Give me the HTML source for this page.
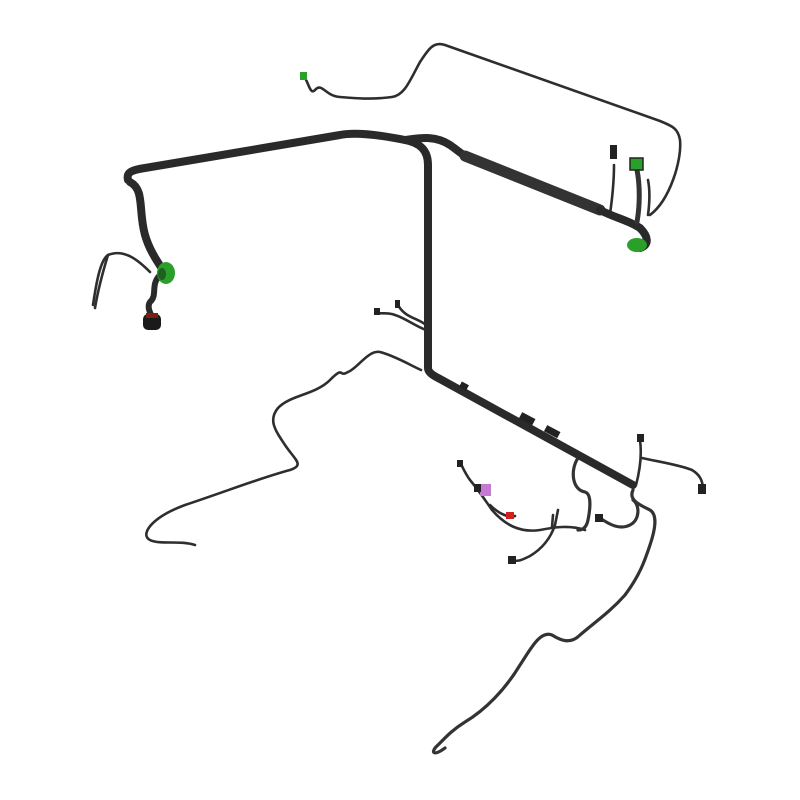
<!DOCTYPE html>
<html><head><style>html,body{margin:0;background:#fff}svg{display:block}</style></head>
<body>
<svg width="800" height="800" viewBox="0 0 800 800" xmlns="http://www.w3.org/2000/svg">
<g fill="none" stroke-linecap="round" stroke-linejoin="round">
<!-- thin wires -->
<g stroke="#2e2e2e" stroke-width="2.6">
<path d="M650 215 C670 200 682 160 680 140 C678 128 672 126 660 121 L445 45 C433 41 428 50 420 62 C410 80 405 95 392 97 C370 100 352 98 340 97 C325 96 322 82 315 90 C310 96 308 80 304 77"/>
<path d="M150 272 C140 262 125 248 108 255 C100 260 96 285 93 305"/>
<path d="M108 255 C104 268 98 290 95 308"/>
<path d="M421 370 C410 365 395 356 380 352 C368 350 358 368 348 372 C338 378 345 365 330 380 C315 395 290 395 278 408 C268 420 275 430 285 445 C295 460 305 465 290 470 C260 478 230 490 185 505 C150 518 140 535 150 540 C160 545 180 540 195 545"/>
<path d="M426 330 C415 326 405 318 395 315 C388 312 382 314 378 313"/>
<path d="M426 325 C418 318 405 318 398 305"/>
<path d="M585 530 C570 525 555 527 540 530 C520 533 505 525 492 510 C485 500 480 492 470 480 C465 473 463 468 461 464"/>
<path d="M490 505 C500 515 510 518 515 516"/>
<path d="M555 525 C550 540 540 550 530 556 C522 560 518 562 512 560"/>
<path d="M555 525 L558 510 M552 527 L553 515"/>
<path d="M636 485 C640 470 642 455 640 440 M642 458 C660 462 680 465 692 470 C700 475 702 480 703 487"/>
<path d="M610 214 C612 200 614 180 614 165 M648 215 C650 200 650 190 648 180"/>
</g>
<g stroke="#333" stroke-width="3.2">
<path d="M633 490 C628 500 640 505 650 510 C658 515 655 530 650 545 C645 560 640 575 625 595 C610 612 595 622 580 635 C570 645 560 640 552 635 C540 630 530 650 520 665 C505 690 485 710 465 722 C452 730 445 738 438 745 C430 752 433 757 445 748"/>
<path d="M600 518 C610 525 620 530 630 525 C640 520 640 505 633 500"/>
<path d="M578 458 C570 470 572 490 585 492 C592 494 590 510 588 520 C586 530 580 530 578 530"/>
</g>
<!-- thick trunk -->
<g stroke="#2a2a2a" stroke-width="8">
<path d="M128 180 C126 172 132 170 145 168 L340 135 C355 132 380 135 405 140 C420 143 428 150 428 165 L428 368 C428 372 432 375 440 379 L633 485"/>
<path d="M130 182 C145 190 138 210 145 235 C150 252 158 262 164 272"/>
<path d="M405 140 C420 138 435 135 450 145 C460 152 462 155 468 157"/>
</g>
<path d="M465 156 L600 210" stroke="#333" stroke-width="11"/>
<path d="M600 210 C615 218 628 220 640 228 C648 236 650 245 640 248" stroke="#2a2a2a" stroke-width="8"/>
<path d="M637 222 C640 205 640 185 637 170" stroke="#333" stroke-width="5"/>
<path d="M160 275 C150 285 158 295 150 302 C146 308 152 315 153 320" stroke="#2a2a2a" stroke-width="6"/>
</g>
<!-- connectors -->
<ellipse cx="166" cy="273" rx="9" ry="11" fill="#2aa02a"/>
<ellipse cx="162" cy="274" rx="4" ry="6" fill="#1f5f1f"/>
<rect x="143" y="314" width="18" height="16" rx="5" fill="#1a1a1a"/>
<rect x="146" y="313" width="12" height="5" fill="#7a2010"/>
<ellipse cx="637" cy="245" rx="10" ry="7" fill="#2aa02a"/>
<rect x="630" y="158" width="13" height="12" fill="#2aa02a" stroke="#222" stroke-width="1.5"/>
<rect x="610" y="145" width="7" height="14" fill="#222"/>
<rect x="300" y="72" width="7" height="8" fill="#2aa02a"/>
<rect x="480" y="484" width="11" height="12" fill="#c47ad0"/>
<rect x="474" y="484" width="7" height="8" fill="#222"/>
<rect x="506" y="512" width="8" height="7" fill="#d02020"/>
<rect x="508" y="556" width="8" height="8" fill="#222"/>
<rect x="595" y="514" width="8" height="8" fill="#222"/>
<rect x="698" y="484" width="8" height="10" fill="#222"/>
<rect x="637" y="434" width="7" height="8" fill="#222"/>
<rect x="457" y="460" width="6" height="7" fill="#222"/>
<rect x="374" y="308" width="6" height="7" fill="#222"/>
<rect x="395" y="300" width="5" height="8" fill="#222"/>
<rect x="520" y="415" width="15" height="7" fill="#222" transform="rotate(28 527 418)"/>
<rect x="545" y="428" width="15" height="7" fill="#222" transform="rotate(28 552 431)"/>
<rect x="460" y="383" width="8" height="6" fill="#222" transform="rotate(28 464 386)"/>
</svg>
</body></html>
